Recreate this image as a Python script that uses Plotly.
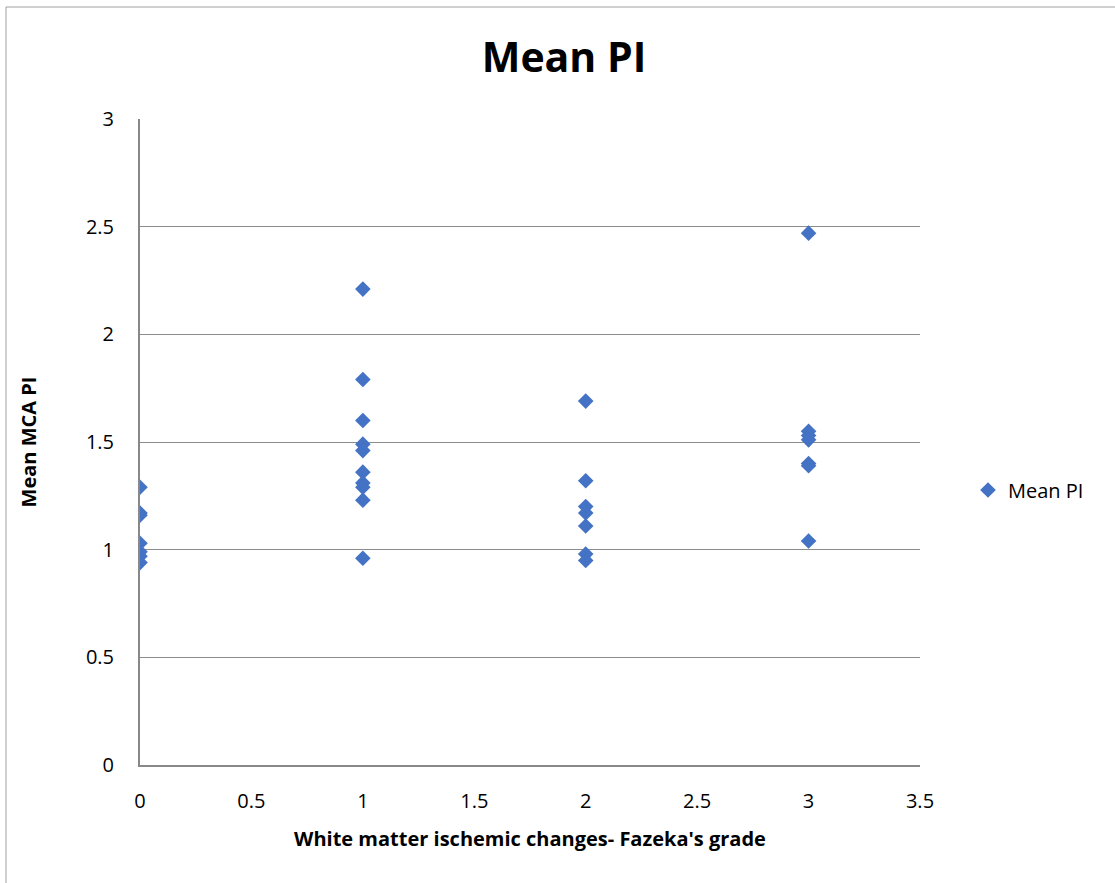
import plotly.graph_objects as go

grade = [0]*7 + [1]*10 + [2]*7 + [3]*7
mean_pi = [1.29, 1.17, 1.16, 1.03, 0.99, 0.97, 0.94,
           2.21, 1.79, 1.60, 1.49, 1.46, 1.36, 1.31, 1.29, 1.23, 0.96,
           1.69, 1.32, 1.20, 1.17, 1.11, 0.98, 0.95,
           2.47, 1.55, 1.53, 1.51, 1.40, 1.39, 1.04]
x_ticks = [0, 0.5, 1, 1.5, 2, 2.5, 3, 3.5]
x_tick_labels = ["0", "0.5", "1", "1.5", "2", "2.5", "3", "3.5"]
y_ticks = [0, 0.5, 1, 1.5, 2, 2.5, 3]
y_tick_labels = ["0", "0.5", "1", "1.5", "2", "2.5", "3"]

W, H = 1115, 883
L, R, T, B = 140, 195, 119, 118
pw, ph = W - L - R, H - T - B

def px(x):
    return (x - L) / pw

def py(y):
    return (H - B - y) / ph

fig = go.Figure()
fig.add_trace(go.Scatter(
    x=grade, y=mean_pi, mode="markers", name="Mean PI",
    marker=dict(symbol="diamond", size=12, color="#4472C4"),
))

font = "Open Sans, Liberation Sans, sans-serif"
fig.update_layout(
    width=W, height=H,
    margin=dict(l=L, r=R, t=T, b=B),
    paper_bgcolor="white", plot_bgcolor="white",
    font=dict(family=font, color="black", size=20),
    title=dict(text="<b>Mean PI</b>", x=px(564), xref="paper", xanchor="center",
               y=1 - 58 / H, yanchor="middle",
               font=dict(size=41, family=font)),
    showlegend=True,
    legend=dict(x=px(968), y=py(490), xanchor="left", yanchor="middle",
                font=dict(size=20), bgcolor="rgba(0,0,0,0)"),
    xaxis=dict(range=[0, 3.5], tickvals=x_ticks, ticktext=x_tick_labels,
               showgrid=False, zeroline=False, showline=True, linecolor="#888888",
               linewidth=2, ticks="", ticklabelstandoff=17,
               title=dict(text="<b>White matter ischemic changes- Fazeka's grade</b>",
                          font=dict(size=20), standoff=19)),
    yaxis=dict(range=[0, 3], tickvals=y_ticks, ticktext=y_tick_labels,
               showgrid=True, gridcolor="#8c8c8c", gridwidth=1,
               zeroline=False, showline=True, linecolor="#888888", linewidth=2,
               ticks="", ticklabelstandoff=20,
               title=dict(text="<b>Mean MCA PI</b>", font=dict(size=20), standoff=44)),
    shapes=[
        dict(type="line", xref="paper", yref="paper",
             x0=px(6), x1=px(1115), y0=py(7), y1=py(7),
             line=dict(color="#a0a0a0", width=1)),
        dict(type="line", xref="paper", yref="paper",
             x0=px(6), x1=px(6), y0=py(7), y1=py(883),
             line=dict(color="#a0a0a0", width=1)),
    ],
)

fig.write_html("out.html")
